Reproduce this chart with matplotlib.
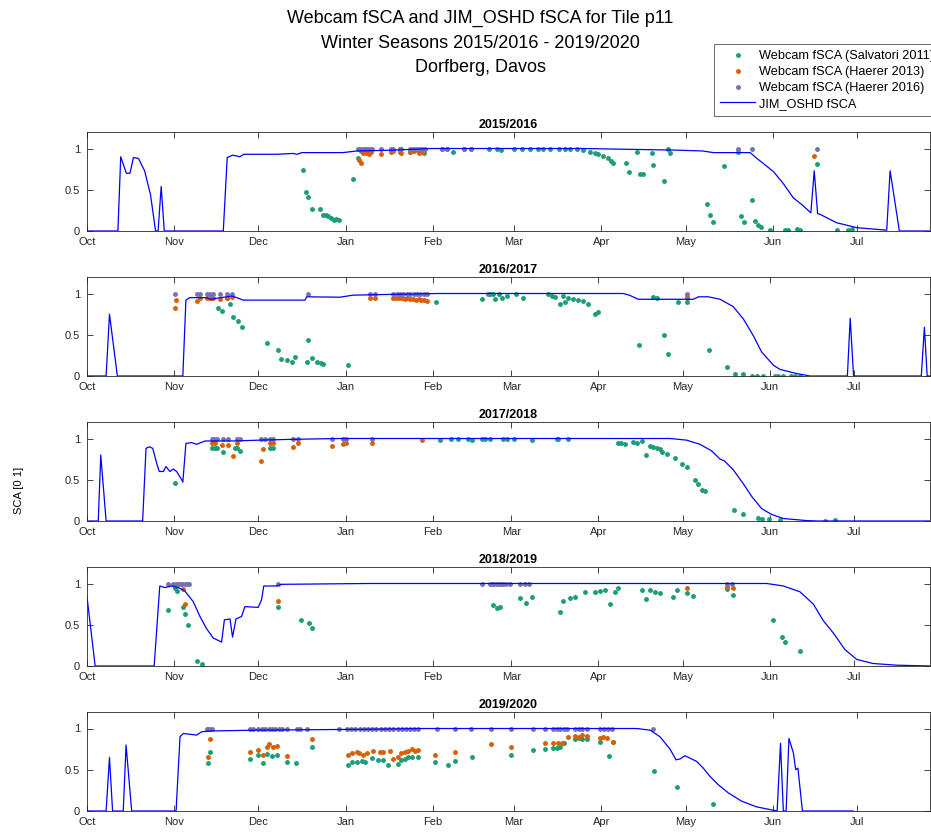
import datetime as dt
import numpy as np
import matplotlib
matplotlib.use("Agg")
import matplotlib.pyplot as plt
from matplotlib.lines import Line2D

plt.rcParams['font.family'] = ['Liberation Sans', 'DejaVu Sans']

# seasons (start year) and panel titles
anos = [2015, 2016, 2017, 2018, 2019]
titulos = ['2015/2016', '2016/2017', '2017/2018', '2018/2019', '2019/2020']

# JIM_OSHD fSCA: (days since 1 Oct, fSCA)
jim_1516 = [(0, 0), (11, 0), (12, 0.9), (14, 0.7), (15.3, 0.7), (16.5, 0.89), (18.3, 0.88), (20.5, 0.73),
            (22.6, 0.44), (24.4, 0), (25.3, 0), (26.4, 0.54), (27.5, 0), (48.5, 0), (49.9, 0.89), (51.8, 0.92),
            (54.4, 0.9), (55.8, 0.93), (67.5, 0.93), (73.4, 0.94), (74.8, 0.93), (76.4, 0.95), (91, 0.95),
            (96, 0.97), (109, 0.98), (122, 1.0), (176, 1.0), (210, 0.98), (219, 0.97), (223, 0.95), (236, 0.95),
            (238.4, 0.88), (244.3, 0.72), (247.9, 0.57), (251.4, 0.4), (254.4, 0.32), (257.6, 0.22),
            (258.8, 0.73), (260, 0.21), (261, 0.2), (266.8, 0.1), (274, 0.04), (284.6, 0.01), (285.8, 0.73),
            (289.1, 0), (300, 0)]
jim_1617 = [(0, 0), (6.8, 0), (8, 0.75), (10.8, 0), (34.1, 0), (35.2, 0.92), (36.6, 0.95), (42.6, 0.95),
            (43.8, 0.93), (49.7, 0.96), (51.5, 0.97), (53.3, 0.95), (55.6, 0.92), (77.6, 0.92), (78.2, 0.96),
            (90, 0.955), (94.7, 0.98), (109, 0.99), (125, 1.0), (190.8, 1.0), (193, 0.98), (196.2, 0.93),
            (215.8, 0.93), (217.6, 0.96), (221.1, 0.96), (225.3, 0.93), (230, 0.84), (233.6, 0.69),
            (237.1, 0.49), (240.1, 0.29), (244.3, 0.13), (246.6, 0.08), (252.5, 0.03), (257.3, 0), (270.6, 0),
            (271.6, 0.7), (272.8, 0), (296.9, 0), (298, 0.59), (299, 0), (300, 0)]
jim_1718 = [(0, 0), (4, 0), (4.9, 0.8), (6.8, 0), (19.8, 0), (21, 0.88), (22.2, 0.9), (23.4, 0.88), (24.8, 0.7),
            (25.7, 0.6), (27.2, 0.6), (28.1, 0.66), (29.5, 0.6), (30.7, 0.63), (31.9, 0.6), (33.7, 0.5),
            (34.1, 0.47), (35.2, 0.94), (37.2, 0.95), (39, 0.93), (42, 0.97), (52, 0.97), (61.5, 0.98),
            (73, 0.99), (90, 1.0), (207.5, 1.0), (213.4, 0.98), (218.1, 0.93), (222.3, 0.85), (225.3, 0.75),
            (226.8, 0.73), (230, 0.62), (233.6, 0.45), (236.5, 0.3), (240.1, 0.15), (243.6, 0.08),
            (247.8, 0.03), (256.1, 0.005), (260, 0), (300, 0)]
jim_1819 = [(0, 0.84), (2.9, 0), (23.9, 0), (25.9, 0.97), (27.7, 0.95), (30.1, 0.97), (32.5, 0.95), (34.8, 0.91),
            (37.8, 0.78), (40.2, 0.6), (42.6, 0.45), (44.9, 0.34), (47.3, 0.3), (47.9, 0.29), (48.9, 0.56),
            (50.9, 0.57), (51.8, 0.35), (53, 0.57), (55, 0.6), (56.2, 0.72), (60.9, 0.71), (62.1, 0.8),
            (62.9, 0.97), (67.5, 0.97), (69.3, 0.99), (100, 1.0), (241.9, 1.0), (247.8, 0.97), (253.7, 0.9),
            (258.5, 0.75), (262, 0.55), (265.6, 0.4), (269.7, 0.2), (273.9, 0.08), (279.8, 0.03),
            (288.1, 0.01), (300, 0)]
jim_1920 = [(0, 0), (6.8, 0), (8, 0.65), (9.1, 0), (12.9, 0), (13.9, 0.8), (15.9, 0), (31.7, 0), (33.1, 0.9),
            (34.3, 0.94), (36.6, 0.93), (39, 0.92), (40.8, 0.96), (43.8, 0.97), (61, 0.98), (97, 0.99),
            (120, 1.0), (195.6, 1.0), (200.4, 0.98), (203.9, 0.9), (207.5, 0.75), (209.6, 0.62), (211, 0.63),
            (212.8, 0.67), (214.6, 0.64), (217, 0.6), (219.3, 0.52), (221.7, 0.42), (224.6, 0.32),
            (228.2, 0.22), (232.9, 0.12), (238.3, 0.05), (244.2, 0.01), (245.6, 0), (246.8, 0.82),
            (247.8, 0), (248.8, 0), (249.8, 0.88), (251.4, 0.7), (252.2, 0.5), (253, 0.52), (254.6, 0),
            (272.7, 0)]

# Webcam fSCA (Salvatori 2011)
salv_1516 = [(76.8, 0.74), (77.9, 0.47), (78.8, 0.41), (79.9, 0.27), (82.9, 0.27), (83.9, 0.2), (84.9, 0.2),
             (85.9, 0.18), (86.8, 0.16), (87.8, 0.13), (88.7, 0.14), (89.7, 0.13), (94.7, 0.63), (96.5, 0.88),
             (97.5, 0.97), (98.5, 0.96), (99.5, 0.98), (100.5, 0.97), (108.3, 0.98), (111.5, 0.99),
             (114.9, 0.96), (116.5, 0.98), (118, 0.97), (119.8, 0.94), (126.2, 0.99), (128, 0.99),
             (130.3, 0.96), (134.3, 0.99), (136.7, 0.99), (143, 0.99), (145.8, 1.0), (147.5, 0.98),
             (151.8, 1.0), (154.7, 0.99), (157.7, 1.0), (160.6, 0.99), (162.4, 0.99), (164.8, 0.99),
             (167.8, 0.99), (170.1, 0.99), (171.9, 1.0), (174.3, 0.99), (176.6, 0.98), (179, 0.96),
             (180.8, 0.94), (182, 0.93), (183.8, 0.91), (185.5, 0.88), (186.3, 0.85), (187.1, 0.83),
             (191.7, 0.82), (193, 0.72), (195.6, 0.96), (196.8, 0.69), (197.7, 0.69), (201, 0.94),
             (201.5, 0.8), (205.4, 0.61), (206.9, 1.0), (207.5, 0.94), (220.7, 0.33), (221.7, 0.2),
             (222.7, 0.11), (226.8, 0.79), (231.8, 0.96), (232.6, 0.18), (233.8, 0.11), (236.7, 0.37),
             (237.7, 0.12), (238.7, 0.07), (239.7, 0.05), (243, 0.01), (248.4, 0.01), (249.6, 0.01),
             (252.5, 0.02), (253.7, 0.01), (259.7, 0.81), (266.8, 0.01), (270.9, 0.01), (272.1, 0.02)]
salv_1617 = [(44.4, 0.94), (46.7, 0.83), (47.9, 0.79), (49.7, 0.95), (50.9, 0.87), (52.1, 0.72), (53.9, 0.67),
             (55, 0.59), (63.9, 0.4), (68.1, 0.31), (68.9, 0.2), (71.1, 0.19), (72.8, 0.17), (74, 0.23),
             (78.2, 0.17), (78.8, 0.44), (79.9, 0.22), (81.9, 0.17), (83.2, 0.16), (84.1, 0.15), (93, 0.13),
             (124.2, 0.9), (140.5, 0.93), (143.4, 1.0), (144.6, 0.99), (145.2, 0.93), (146.5, 0.99),
             (147.7, 0.95), (149.5, 0.97), (152.5, 0.99), (155.3, 0.94), (164.2, 0.99), (165.4, 0.97),
             (166.6, 0.96), (168.3, 0.87), (169.5, 0.97), (170.1, 0.9), (171.3, 0.94), (173.1, 0.93),
             (174.9, 0.92), (176.6, 0.91), (178.4, 0.87), (180.8, 0.75), (182, 0.78), (196.5, 0.38),
             (201.5, 0.96), (202.7, 0.94), (205.3, 0.5), (206.6, 0.27), (210.4, 0.9), (213.4, 0.94),
             (213.5, 0.9), (221.5, 0.32), (227.6, 0.11), (230.6, 0.02), (233.6, 0.02), (236.5, 0.0),
             (238.3, 0.0), (240.7, 0.0), (244.8, 0.0), (246, 0.0), (247.8, 0.0), (250.7, 0.0), (251.9, 0.0),
             (253.7, 0.0)]
salv_1718 = [(31.3, 0.46), (44.4, 0.89), (45.5, 0.88), (46.1, 0.88), (48.5, 0.84), (52.7, 0.89), (53.3, 0.88),
             (54.4, 0.85), (65.3, 0.88), (66.3, 0.88), (125.6, 0.98), (129.5, 0.99), (132, 1.0), (135.5, 0.99),
             (137, 0.98), (140.5, 1.0), (141.7, 1.0), (143.4, 1.0), (148.2, 1.0), (149.3, 1.0), (151.8, 1.0),
             (158.3, 0.98), (167.1, 0.99), (167.7, 0.99), (171.3, 0.99), (189, 0.95), (190.2, 0.94),
             (191.5, 0.93), (194.4, 0.96), (195.6, 0.94), (197.4, 0.97), (199.1, 0.8), (200.3, 0.91),
             (201.5, 0.9), (202.7, 0.89), (203.9, 0.87), (204.5, 0.84), (206.3, 0.81), (209.2, 0.76),
             (211.6, 0.69), (213.4, 0.65), (216.3, 0.5), (217.5, 0.45), (218.7, 0.38), (219.9, 0.36),
             (230.2, 0.13), (233.4, 0.09), (238.7, 0.04), (240.3, 0.02), (242.7, 0.03), (246.6, 0.01),
             (262.6, 0.0), (266.2, 0.01)]
salv_1819 = [(28.9, 0.68), (31.3, 0.95), (31.9, 0.91), (34, 0.72), (34.9, 0.63), (36.1, 0.5), (39, 0.06),
             (41.1, 0.02), (68.1, 0.71), (76, 0.56), (79.1, 0.52), (80.2, 0.46), (144.6, 0.74), (145.8, 0.7),
             (147, 0.72), (154, 0.82), (156.4, 0.76), (158.3, 0.84), (168.3, 0.66), (169.5, 0.79),
             (171.9, 0.82), (173.7, 0.84), (177.2, 0.9), (180.8, 0.9), (182.5, 0.91), (184.3, 0.92),
             (186.1, 0.75), (187.8, 0.9), (189, 0.95), (197.4, 0.92), (199.1, 0.81), (200.3, 0.92),
             (202.1, 0.9), (204, 0.88), (208.4, 0.84), (209.8, 0.92), (213.7, 0.88), (215.8, 0.85),
             (227.6, 0.93), (229.8, 0.86), (244.2, 0.56), (247.3, 0.35), (248.5, 0.29), (253.7, 0.18)]
salv_1920 = [(43.2, 0.58), (43.8, 0.72), (58, 0.63), (61, 0.68), (62.8, 0.58), (64.2, 0.69), (65.7, 0.67),
             (67.7, 0.68), (71.1, 0.59), (74.4, 0.58), (80, 0.77), (93, 0.56), (94.2, 0.59), (96, 0.59),
             (97.7, 0.61), (98.9, 0.6), (101.3, 0.64), (103.6, 0.62), (105.4, 0.62), (107.2, 0.56),
             (110.7, 0.57), (111.9, 0.62), (113.1, 0.63), (114.3, 0.65), (115.5, 0.66), (117.9, 0.66),
             (124, 0.6), (128.6, 0.56), (130.8, 0.61), (136.9, 0.66), (150.8, 0.68), (158.8, 0.74), (163, 0.75),
             (166, 0.76), (167.2, 0.76), (168.4, 0.77), (169.6, 0.82), (173.7, 0.87), (175, 0.88),
             (176.2, 0.87), (177.8, 0.87), (182.5, 0.84), (185.9, 0.67), (187.3, 0.84), (201.8, 0.49),
             (209.8, 0.29), (222.9, 0.08)]

# Webcam fSCA (Haerer 2013)
h13_1516 = [(96.8, 0.86), (97.6, 0.83), (98.3, 0.94), (99.2, 0.95), (100.2, 0.93), (101, 0.96), (104.8, 0.93),
            (108.3, 0.96), (108.9, 0.97), (111.3, 0.96), (111.9, 0.95), (115, 0.96), (116.5, 0.97), (118, 0.95),
            (119.5, 0.96), (258.8, 0.91)]
h13_1617 = [(31.3, 0.82), (31.5, 0.92), (39, 0.91), (40.2, 0.94), (42.6, 0.95), (43.8, 0.94), (45, 0.95),
            (47.3, 0.93), (49.7, 0.95), (51.5, 0.96), (100.7, 0.94), (102.6, 0.94), (109, 0.95), (110, 0.94),
            (111, 0.95), (112, 0.94), (113, 0.93), (114, 0.94), (115, 0.93), (116, 0.93), (117, 0.92),
            (118, 0.93), (119, 0.92), (120, 0.92), (120.9, 0.91), (213.4, 0.96)]
h13_1718 = [(44.4, 0.95), (45.6, 0.94), (48, 0.92), (50.3, 0.92), (52.1, 0.79), (53.3, 0.95), (62, 0.73),
            (62.8, 0.87), (65, 0.95), (66.3, 0.94), (73.2, 0.9), (75.2, 0.95), (87.1, 0.91), (91.2, 0.93),
            (92.2, 0.95), (101.3, 0.94), (119.3, 0.98)]
h13_1819 = [(34, 0.93), (34.9, 0.75), (68.1, 0.79), (213.4, 0.94), (227.6, 0.96), (229.8, 0.95)]
h13_1920 = [(43.2, 0.65), (43.8, 0.87), (58, 0.71), (61, 0.74), (62.8, 0.68), (64, 0.78), (64.9, 0.81),
            (66.3, 0.78), (67.7, 0.79), (71.1, 0.67), (80, 0.87), (93, 0.68), (94.2, 0.7), (96, 0.71),
            (96.9, 0.7), (98.3, 0.68), (99.5, 0.7), (101.9, 0.73), (104.3, 0.71), (105.4, 0.71), (107.8, 0.73),
            (109, 0.63), (110.7, 0.65), (111.9, 0.7), (113.1, 0.72), (114.3, 0.73), (115.5, 0.75),
            (116.7, 0.73), (117.9, 0.74), (124, 0.68), (130.8, 0.71), (143.6, 0.81), (150.8, 0.77),
            (163, 0.83), (166, 0.82), (167.5, 0.82), (169, 0.83), (171, 0.9), (173.7, 0.91), (175, 0.9),
            (176.2, 0.92), (177.8, 0.91), (182.5, 0.89), (183.7, 0.9), (184.9, 0.89), (187.3, 0.84)]

# Webcam fSCA (Haerer 2016)
h16_1516 = [(96.5, 1.0), (97.3, 1.0), (98.1, 1.0), (98.9, 1.0), (99.7, 1.0), (100.5, 1.0), (101.3, 1.0),
            (104.8, 1.0), (108.3, 1.0), (108.9, 1.0), (111.3, 1.0), (111.9, 1.0), (114.9, 1.0), (116, 1.0),
            (117.1, 1.0), (118.2, 1.0), (119.3, 1.0), (120.2, 1.0), (126.2, 1.0), (128, 1.0), (134.3, 1.0),
            (136.7, 1.0), (231.8, 1.0), (236.7, 1.0), (259.7, 1.0)]
h16_1617 = [(31.3, 1.0), (39, 1.0), (40.2, 1.0), (42.6, 1.0), (43.8, 1.0), (45, 1.0), (47.3, 1.0), (49.7, 1.0),
            (51.5, 1.0), (78.8, 1.0), (100.7, 1.0), (102.6, 1.0), (109, 1.0), (110.2, 1.0), (111.4, 1.0),
            (112.6, 1.0), (113.8, 1.0), (115, 1.0), (116.2, 1.0), (117.4, 1.0), (118.6, 1.0), (119.8, 1.0),
            (120.9, 1.0), (142.8, 1.0), (213.4, 1.0)]
h16_1718 = [(44.4, 1.0), (45.2, 1.0), (46.1, 1.0), (48.5, 1.0), (50.3, 1.0), (53.3, 1.0), (54.4, 1.0), (62, 1.0),
            (63.3, 1.0), (65.3, 1.0), (66.3, 1.0), (73.4, 1.0), (75.2, 1.0), (87.1, 1.0), (91.2, 1.0),
            (92.2, 1.0), (101.3, 1.0)]
h16_1819 = [(28.9, 1.0), (30.7, 1.0), (31.5, 1.0), (32.3, 1.0), (33.1, 1.0), (33.9, 1.0), (34.7, 1.0),
            (35.5, 1.0), (36.3, 1.0), (68.1, 1.0), (140.5, 1.0), (143.4, 1.0), (144.2, 1.0), (145, 1.0),
            (145.8, 1.0), (146.6, 1.0), (147.4, 1.0), (148.2, 1.0), (149, 1.0), (150.5, 1.0), (154, 1.0),
            (155.8, 1.0), (157.3, 1.0), (227.6, 1.0), (229.4, 1.0)]
h16_1920 = [(42.6, 1.0), (43.5, 1.0), (44.4, 1.0), (58, 1.0), (59.2, 1.0), (61, 1.0), (62.2, 1.0), (63.4, 1.0),
            (64.6, 1.0), (65.8, 1.0), (67, 1.0), (68.2, 1.0), (69.4, 1.0), (71.1, 1.0), (74.6, 1.0),
            (75.8, 1.0), (78.4, 1.0), (89.8, 1.0), (92.5, 1.0), (94, 1.0), (95.5, 1.0), (97, 1.0), (98.5, 1.0),
            (100, 1.0), (101.5, 1.0), (103, 1.0), (104.5, 1.0), (106, 1.0), (107.5, 1.0), (109, 1.0),
            (110.5, 1.0), (112, 1.0), (113.5, 1.0), (115, 1.0), (116.5, 1.0), (117.9, 1.0), (124.4, 1.0),
            (130.8, 1.0), (136.7, 1.0), (143.8, 1.0), (150.8, 1.0), (158.8, 1.0), (163, 1.0), (166, 1.0),
            (167.2, 1.0), (168.4, 1.0), (169.6, 1.0), (170.7, 1.0), (173.7, 1.0), (175, 1.0), (176.3, 1.0),
            (177.8, 1.0), (182.5, 1.0), (183.9, 1.0), (185.3, 1.0), (186.7, 1.0), (201.5, 1.0)]

jim = [jim_1516, jim_1617, jim_1718, jim_1819, jim_1920]
salv = [salv_1516, salv_1617, salv_1718, salv_1819, salv_1920]
h13 = [h13_1516, h13_1617, h13_1718, h13_1819, h13_1920]
h16 = [h16_1516, h16_1617, h16_1718, h16_1819, h16_1920]

cor_salv = '#1b9e77'
cor_h13 = '#d95f02'
cor_h16 = '#7570b3'
cor_jim = '#0000ff'
meses = ['Oct', 'Nov', 'Dec', 'Jan', 'Feb', 'Mar', 'Apr', 'May', 'Jun', 'Jul']

W, H = 931, 832
fig = plt.figure(figsize=(W / 100, H / 100), dpi=100)

for k, ano in enumerate(anos):
    topo = 132 + 145 * k  # pixel row of the top of panel k
    ax = fig.add_axes([87 / W, 1 - (topo + 99) / H, 843 / W, 99 / H])

    # month ticks as day offsets from 1 Oct of the season
    ini = dt.date(ano, 10, 1)
    ticks = []
    for m in range(10):
        mes = (10 + m - 1) % 12 + 1
        a = ano if mes >= 10 else ano + 1
        ticks.append((dt.date(a, mes, 1) - ini).days)

    for dados, cor in [(salv[k], cor_salv), (h13[k], cor_h13), (h16[k], cor_h16)]:
        d = np.array(dados)
        ax.plot(d[:, 0], d[:, 1], '.', color=cor, markersize=5, linestyle='none')
    d = np.array(jim[k])
    ax.plot(d[:, 0], d[:, 1], '-', color=cor_jim, linewidth=0.9)

    ax.set_xlim(0, 300)
    ax.set_ylim(0, 1.2)
    ax.set_xticks(ticks)
    ax.set_xticklabels(meses)
    ax.set_yticks([0, 0.5, 1])
    ax.set_yticklabels(['0', '0.5', '1'])
    ax.tick_params(direction='in', top=True, right=True, length=4, width=0.6,
                   labelsize=8, colors='#262626')
    ax.tick_params(axis='x', pad=4)
    ax.tick_params(axis='y', pad=5)
    for s in ax.spines.values():
        s.set_linewidth(0.6)
        s.set_color('#262626')
    ax.set_title(titulos[k], fontsize=9, fontweight='bold', pad=3)

fig.text(19 / W, 1 - 490 / H, 'SCA [0 1]', rotation=90, ha='center', va='center', fontsize=8)

fig.text(480 / W, 1 - 43 / H,
         'Webcam fSCA and JIM_OSHD fSCA for Tile p11\nWinter Seasons 2015/2016 - 2019/2020\nDorfberg, Davos',
         ha='center', va='center', fontsize=13, linespacing=1.55)

handles = [Line2D([], [], marker='.', color=cor_salv, linestyle='none', markersize=5),
           Line2D([], [], marker='.', color=cor_h13, linestyle='none', markersize=5),
           Line2D([], [], marker='.', color=cor_h16, linestyle='none', markersize=5),
           Line2D([], [], color=cor_jim, linewidth=0.9)]
nomes = ['Webcam fSCA (Salvatori 2011)', 'Webcam fSCA (Haerer 2013)',
         'Webcam fSCA (Haerer 2016)', 'JIM_OSHD fSCA']
leg = fig.legend(handles, nomes, loc='upper left', bbox_to_anchor=(714 / W, 1 - 44 / H),
                 fontsize=9.2, frameon=True, fancybox=False, edgecolor='#262626',
                 handlelength=2.7, handletextpad=0.3, borderpad=0.5, labelspacing=0.3,
                 borderaxespad=0)
leg.get_frame().set_linewidth(0.6)

fig.savefig('out.png', dpi=100)
